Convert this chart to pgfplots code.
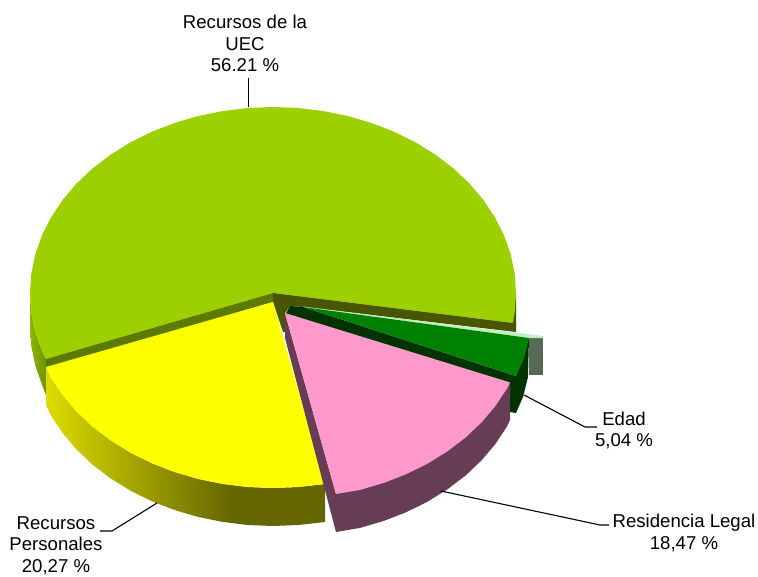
\documentclass[border=0pt]{standalone}
\usepackage{fontspec}
\setmainfont{Liberation Sans}
\usepackage{pgfplots}
\pgfplotsset{compat=1.18}
\definecolor{gtop}{HTML}{9CD000}
\definecolor{gback}{HTML}{4A5500}
\definecolor{gband}{HTML}{5C7A00}
\definecolor{ptop}{HTML}{FF99CC}
\definecolor{pside}{HTML}{663D55}
\definecolor{dtop}{HTML}{008000}
\definecolor{dside}{HTML}{003300}
\definecolor{grect}{HTML}{556B55}
\definecolor{gstrip}{HTML}{BFEEBF}
\definecolor{ytop}{HTML}{FFFF00}
\definecolor{ya}{HTML}{DCDC00}
\definecolor{yb}{HTML}{666600}
\definecolor{ga}{HTML}{8DB800}
\definecolor{gb}{HTML}{6E9400}
\pgfdeclarehorizontalshading{yelside}{100bp}{color(0bp)=(ya); color(25bp)=(ya); color(58bp)=(yb); color(100bp)=(yb)}
\pgfdeclarehorizontalshading{grnside}{100bp}{color(0bp)=(ga); color(25bp)=(ga); color(75bp)=(gb); color(100bp)=(gb)}
\begin{document}
\begin{tikzpicture}
\path[use as bounding box] (0,0) rectangle (758pt,576pt);
\begin{axis}[
  at={(0,0)}, anchor=south west,
  scale only axis, width=758pt, height=576pt,
  xmin=0, xmax=758, ymin=0, ymax=576, y dir=reverse,
  axis lines=none, clip=false, no markers,
  every axis plot/.append style={line join=round},
]
% green side (left)
\addplot[draw=none, shading=grnside] coordinates {(30,293)(31.3,312.4)(35.3,331.7)(41.9,350.5)(46,359)(46,395)(41.9,384.5)(35.3,365.7)(31.3,346.4)(30,327)};
% green right sliver
\addplot[draw=none, fill=gback] coordinates {(516,293)(516,332)(512,326)};
% green top
\addplot[draw=none, fill=gtop] coordinates {(273,293)(512.8,323)(514.7,312.4)(516,293)(514.7,273.6)(510.7,254.3)(504.1,235.5)(495,217.4)(483.4,200)(469.6,183.7)(453.6,168.5)(435.6,154.8)(415.8,142.5)(394.5,131.9)(371.8,123.1)(348.1,116.1)(323.5,111.1)(298.4,108)(273,107)(247.6,108)(222.5,111.1)(197.9,116.1)(174.2,123.1)(151.5,131.9)(130.2,142.5)(110.4,154.8)(92.4,168.5)(76.4,183.7)(62.6,200)(51,217.4)(41.9,235.5)(35.3,254.3)(31.3,273.6)(30,293)(31.3,312.4)(35.3,331.7)(41.9,350.5)(46,359)};
% green cut faces
\addplot[draw=none, fill=gback] coordinates {(273,293)(512.8,323)(516,332)(303,307)(290,306)(285,313)(285,332)(283,332)(273,302)};
\addplot[draw=none, fill=gband] coordinates {(273,293)(46,359)(46,369)(273,302)};
% grey rectangle and light strip
\addplot[draw=none, fill=grect] coordinates {(529,337)(543,337)(543,375)(529,375)};
\addplot[draw=none, fill=gstrip] coordinates {(303,306.5)(543,336)(543,338)(529,338)(303,307)};
% dark green
\addplot[draw=none, fill=dside] coordinates {(529,338)(516,376)(510,382)(510,412)(516,413)(523,397)(528,377)};
\addplot[draw=none, fill=dside] coordinates {(290,306)(303,307)(516,376)(511,384)(285,315)};
\addplot[draw=none, fill=dtop] coordinates {(303,307)(529,338)(524,358)(516,376)};
% yellow
\addplot[draw=none, shading=yelside] coordinates {(46,367)(51,377.6)(62.6,395)(76.4,411.3)(92.4,426.5)(110.4,440.2)(130.2,452.5)(151.5,463.1)(174.2,471.9)(197.9,478.9)(222.5,483.9)(247.6,487)(273,488)(298.4,487)(325,484)(325,522)(298.4,525)(273,526)(247.6,525)(222.5,521.9)(197.9,516.9)(174.2,509.9)(151.5,501.1)(130.2,490.5)(110.4,478.2)(92.4,464.5)(76.4,449.3)(62.6,433)(51,415.6)(46,405)};
\addplot[draw=none, fill=ytop] coordinates {(273,302)(46,367)(51,377.6)(62.6,395)(76.4,411.3)(92.4,426.5)(110.4,440.2)(130.2,452.5)(151.5,463.1)(174.2,471.9)(197.9,478.9)(222.5,483.9)(247.6,487)(273,488)(298.4,487)(325,484)};
% pink
\addplot[draw=none, fill=pside] coordinates {(285,313)(285,338)(336,532)(360.1,527.9)(383.8,520.9)(406.5,512.1)(427.8,501.5)(447.6,489.2)(465.6,475.5)(481.6,460.3)(495.4,444)(507,426.6)(510,420)(510,382)(336,494)};
\addplot[draw=none, fill=ptop] coordinates {(285,313)(336,494)(360.1,489.9)(383.8,482.9)(406.5,474.1)(427.8,463.5)(447.6,451.2)(465.6,437.5)(481.6,422.3)(495.4,406)(507,388.6)(510,382.4)};
% leader lines
\addplot[black, line width=1.1pt] coordinates {(248.5,78)(248.5,107)};
\addplot[black, line width=1.1pt] coordinates {(100,531)(112,531)(157,503)};
\addplot[black, line width=1.1pt] coordinates {(524,395)(585,427)(597,427)};
\addplot[black, line width=1.1pt] coordinates {(441,491)(600,525)(609,525)};
% labels
\node[align=center, font=\fontsize{18.6}{21.8}\selectfont] at (axis cs:245,43.5) {Recursos de la\\UEC\\56.21 \%};
\node[align=center, inner sep=0pt, font=\fontsize{18.6}{21.3}\selectfont] at (axis cs:56,545.5) {Recursos\\Personales\\20,27 \%};
\node[align=center, font=\fontsize{18.6}{21.8}\selectfont] at (axis cs:624,430.5) {Edad\\5,04 \%};
\node[align=center, font=\fontsize{18.6}{21.8}\selectfont] at (axis cs:684,533) {Residencia Legal\\18,47 \%};
\end{axis}
\end{tikzpicture}
\end{document}
